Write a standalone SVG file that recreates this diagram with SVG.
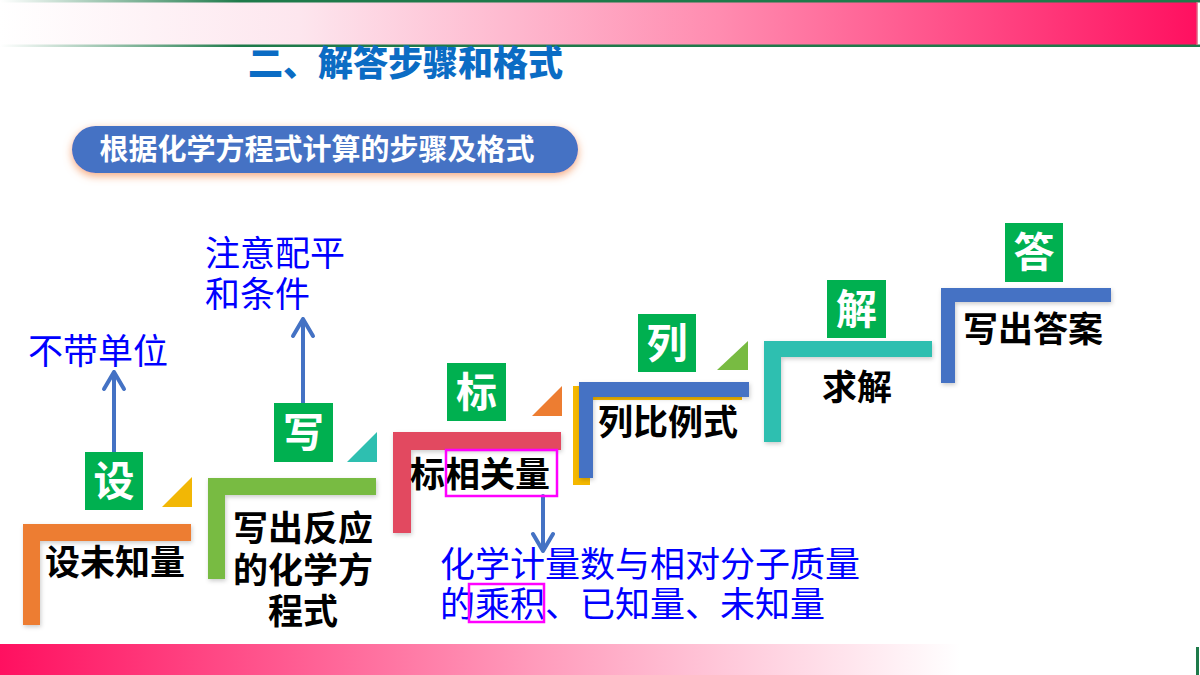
<svg xmlns="http://www.w3.org/2000/svg" width="1200" height="675" viewBox="0 0 1200 675">
<defs>
<linearGradient id="topg" x1="0" y1="0" x2="1" y2="0">
<stop offset="0" stop-color="#ffffff"/>
<stop offset="0.25" stop-color="#fde6ee"/>
<stop offset="0.6" stop-color="#ff8cb0"/>
<stop offset="1" stop-color="#ff1060"/>
</linearGradient>
<linearGradient id="lineg" x1="0" y1="0" x2="1" y2="0">
<stop offset="0" stop-color="#ffffff"/>
<stop offset="0.2" stop-color="#1e7a4a"/>
<stop offset="1" stop-color="#1e7a4a"/>
</linearGradient>
<linearGradient id="botg" x1="0" y1="0" x2="1" y2="0">
<stop offset="0" stop-color="#ff1060"/>
<stop offset="0.45" stop-color="#ff9cbc"/>
<stop offset="0.8" stop-color="#ffffff"/>
<stop offset="1" stop-color="#ffffff"/>
</linearGradient>
<filter id="glow" x="-10%" y="-40%" width="120%" height="180%">
<feDropShadow dx="0" dy="3" stdDeviation="4" flood-color="#f4a070" flood-opacity="0.9"/>
</filter>
<filter id="sh" x="-20%" y="-20%" width="140%" height="140%">
<feDropShadow dx="1" dy="2" stdDeviation="2" flood-color="#000" flood-opacity="0.2"/>
</filter>
</defs>
<style>
.box{fill:#00b050}
.boxt{font-family:"Noto Sans CJK SC","Noto Sans",sans-serif;font-weight:700;font-size:41px;fill:#ffffff;text-anchor:middle}
.lbl{font-family:"Noto Sans CJK SC","Noto Sans",sans-serif;font-weight:700;font-size:35px;fill:#000000}
.note{font-family:"Noto Sans CJK SC","Noto Sans",sans-serif;font-size:35px;fill:#0000ff}
.hl{fill:none;stroke:#ff00ff;stroke-width:2.5}
.conn{stroke:#4472c4;stroke-width:4;fill:none;stroke-linecap:round;stroke-linejoin:round}
</style>
<rect width="1200" height="675" fill="#ffffff"/>
<!-- top banner -->
<rect x="0" y="2" width="1197" height="43" fill="url(#topg)"/>
<rect x="0" y="0" width="1200" height="2.5" fill="url(#lineg)"/>
<rect x="0" y="44.5" width="1200" height="2.5" fill="url(#lineg)"/>
<line x1="1197" y1="2" x2="1197" y2="45" stroke="#e06080" stroke-width="1.5"/>
<!-- bottom bar -->
<rect x="0" y="644" width="1200" height="31" fill="url(#botg)"/>
<rect x="1196" y="647" width="3" height="28" fill="#1e7a4a"/>
<!-- title -->
<text x="248" y="76" font-family="'Noto Sans CJK SC',sans-serif" font-weight="900" font-size="35" fill="#0b6cc4">二、解答步骤和格式</text>
<g id="header">
<rect x="72" y="126" width="506" height="47" rx="23.5" fill="#4472c4" filter="url(#glow)"/>
<text x="317" y="160" text-anchor="middle" font-family="'Noto Sans CJK SC',sans-serif" font-weight="700" font-size="29" fill="#ffffff">根据化学方程式计算的步骤及格式</text>
</g>
<g id="connectors">
<path class="conn" d="M114,452 V372 M104,389 L114,372 L124,389"/>
<path class="conn" d="M303,403 V319 M293,336 L303,319 L313,336"/>
<path class="conn" d="M543,496 V551 M533,534 L543,551 L553,534"/>
</g>
<g id="step-she">
<rect class="box" x="85" y="452" width="58" height="58"/>
<text class="boxt" x="114" y="496">设</text>
<polygon points="162,507 192,507 192,477" fill="#f2b705"/>
<path d="M23,524 H191 V541 H40 V625 H23 Z" fill="#ed7d31" filter="url(#sh)"/>
<text class="lbl" x="45" y="575">设未知量</text>
</g>
<g id="note-unit">
<text class="note" x="28" y="364">不带单位</text>
</g>
<g id="step-xie">
<rect class="box" x="274" y="403" width="59" height="59"/>
<text class="boxt" x="303.5" y="447">写</text>
<polygon points="347,462 377,462 377,432" fill="#2ebfb0"/>
<path d="M208,478 H376 V495 H225 V579 H208 Z" fill="#78bb42" filter="url(#sh)"/>
<text class="lbl" x="303" y="541" text-anchor="middle">写出反应</text>
<text class="lbl" x="303" y="583" text-anchor="middle">的化学方</text>
<text class="lbl" x="303" y="624" text-anchor="middle">程式</text>
</g>
<g id="note-balance">
<text class="note" x="205" y="266">注意配平</text>
<text class="note" x="205" y="307">和条件</text>
</g>
<g id="step-biao">
<rect class="box" x="447" y="363" width="59" height="58"/>
<text class="boxt" x="476.5" y="407">标</text>
<polygon points="532,416 562,416 562,386" fill="#ed7d31"/>
<path d="M393,432 H561 V450 H411 V533 H393 Z" fill="#e24a60" filter="url(#sh)"/>
<text class="lbl" x="410" y="487">标相关量</text>
<rect class="hl" x="446" y="450" width="111" height="46"/>
</g>
<g id="note-product">
<text class="note" x="440" y="577">化学计量数与相对分子质量</text>
<text class="note" x="440" y="617">的乘积、已知量、未知量</text>
<rect class="hl" x="469" y="584" width="75" height="38"/>
</g>
<g id="step-lie">
<rect class="box" x="638" y="314" width="58" height="58"/>
<text class="boxt" x="667" y="358">列</text>
<polygon points="717,370 748,370 748,341" fill="#78bb42"/>
<path d="M573,386 H742 V400 H590 V485 H573 Z" fill="#f5b800"/>
<path d="M579,382 H749 V397 H593 V478 H579 Z" fill="#4472c4" filter="url(#sh)"/>
<text class="lbl" x="598" y="435">列比例式</text>
</g>
<g id="step-jie">
<rect class="box" x="827" y="280" width="59" height="58"/>
<text class="boxt" x="856.5" y="324">解</text>
<path d="M764,341 H932 V357 H781 V442 H764 Z" fill="#2ebfb0" filter="url(#sh)"/>
<text class="lbl" x="822" y="400">求解</text>
</g>
<g id="step-da">
<rect class="box" x="1005" y="223" width="58" height="59"/>
<text class="boxt" x="1034" y="267">答</text>
<path d="M941,288 H1111 V302 H955 V383 H941 Z" fill="#4472c4" filter="url(#sh)"/>
<text class="lbl" x="963" y="342">写出答案</text>
</g>
</svg>
